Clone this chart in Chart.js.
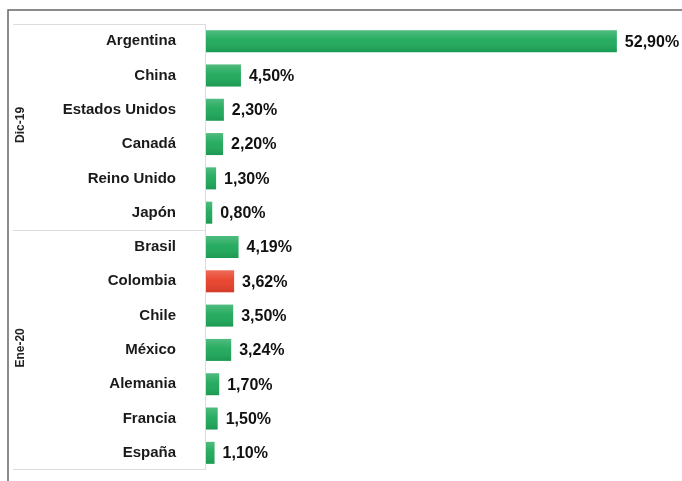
<!DOCTYPE html>
<html>
<head>
<meta charset="utf-8">
<script src="https://cdn.jsdelivr.net/npm/chart.js@4.4.1/dist/chart.umd.min.js"></script>
<style>
    html, body { margin: 0; padding: 0; background: #fff; }
    #wrap { width: 682px; height: 481px; position: relative; }
</style>
</head>
<body>
<div id="wrap"><canvas id="chart"></canvas></div>
<script>
// ================================
// Data
// ================================
const categories = ['Argentina', 'China', 'Estados Unidos', 'Canadá', 'Reino Unido', 'Japón',
    'Brasil', 'Colombia', 'Chile', 'México', 'Alemania', 'Francia', 'España'];
const values = [52.9, 4.5, 2.3, 2.2, 1.3, 0.8, 4.19, 3.62, 3.5, 3.24, 1.7, 1.5, 1.1];
const groupLabels = ['Dic-19', 'Ene-20'];
const groupSizes = [6, 7];
const highlight = 'Colombia';

const GREEN = '#1fa95b';
const RED = '#e8412a';
const FONT = '"Liberation Sans", Arial, sans-serif';

function fmt(v) {
    return v.toFixed(2).replace('.', ',') + '%';
}

// Frame, table lines, group labels, bar shading and value labels
const framePlugin = {
    id: 'frame',
    beforeDatasetsDraw(chart) {
        const ctx = chart.ctx;
        const area = chart.chartArea;
        const y = chart.scales.y;
        const tableLeft = 13;
        const tableRight = area.left - 1;

        ctx.save();
        // outer frame
        ctx.strokeStyle = '#666';
        ctx.lineWidth = 1.5;
        ctx.beginPath();
        ctx.moveTo(682, 10);
        ctx.lineTo(8, 10);
        ctx.lineTo(8, 481);
        ctx.stroke();

        // table lines
        ctx.strokeStyle = '#dcdcdc';
        ctx.lineWidth = 1;
        ctx.beginPath();
        ctx.moveTo(tableRight + 0.5, area.top);
        ctx.lineTo(tableRight + 0.5, area.bottom);
        ctx.moveTo(tableLeft, area.top + 0.5);
        ctx.lineTo(tableRight, area.top + 0.5);
        ctx.moveTo(tableLeft, area.bottom - 0.5);
        ctx.lineTo(tableRight, area.bottom - 0.5);

        let start = 0;
        const bounds = [];
        groupSizes.forEach((n, i) => {
            const top = i === 0 ? area.top : y.getPixelForValue(start - 0.5);
            const end = start + n - 1;
            const bottom = i === groupSizes.length - 1 ? area.bottom : y.getPixelForValue(end + 0.5);
            bounds.push([top, bottom]);
            if (i > 0) {
                ctx.moveTo(tableLeft, Math.round(top) + 0.5);
                ctx.lineTo(tableRight, Math.round(top) + 0.5);
            }
            start += n;
        });
        ctx.stroke();

        // group labels (vertical)
        ctx.fillStyle = '#222';
        ctx.font = 'bold 12px ' + FONT;
        ctx.textAlign = 'center';
        ctx.textBaseline = 'middle';
        bounds.forEach((b, i) => {
            ctx.save();
            ctx.translate(21, (b[0] + b[1]) / 2 - 2);
            ctx.rotate(-Math.PI / 2);
            ctx.fillText(groupLabels[i], 0, 0);
            ctx.restore();
        });
        ctx.restore();
    },
    afterDatasetsDraw(chart) {
        const ctx = chart.ctx;
        const meta = chart.getDatasetMeta(0);
        ctx.save();
        // soft bevel shading on each bar
        meta.data.forEach(bar => {
            const h = bar.height;
            const top = bar.y - h / 2;
            const g = ctx.createLinearGradient(0, top, 0, top + h);
            g.addColorStop(0, 'rgba(255,255,255,0.22)');
            g.addColorStop(0.45, 'rgba(255,255,255,0.04)');
            g.addColorStop(1, 'rgba(0,0,0,0.10)');
            ctx.fillStyle = g;
            ctx.fillRect(bar.base, top, bar.x - bar.base, h);
        });

        ctx.fillStyle = '#111';
        ctx.font = 'bold 16px ' + FONT;
        ctx.textAlign = 'left';
        ctx.textBaseline = 'middle';
        meta.data.forEach((bar, i) => {
            ctx.fillText(fmt(values[i]), bar.x + 8, bar.y + 1);
        });
        ctx.restore();
    }
};

const ctx = document.getElementById('chart').getContext('2d');
new Chart(ctx, {
    type: 'bar',
    data: {
        labels: categories,
        datasets: [{
            data: values,
            backgroundColor: categories.map(c => c === highlight ? RED : GREEN),
            borderWidth: 0,
            categoryPercentage: 1,
            barPercentage: 0.64
        }]
    },
    options: {
        indexAxis: 'y',
        responsive: true,
        maintainAspectRatio: false,
        animation: false,
        layout: { padding: { top: 24, bottom: 11, left: 0, right: 10 } },
        plugins: {
            legend: { display: false },
            tooltip: { enabled: false }
        },
        scales: {
            x: {
                display: false,
                min: 0,
                max: 60
            },
            y: {
                afterFit(scale) {
                    scale.width = 206;
                    scale.paddingTop = 0;
                    scale.paddingBottom = 0;
                },
                grid: { display: false, drawTicks: false },
                border: { display: false },
                ticks: {
                    padding: 30,
                    color: '#1a1a1a',
                    font: { family: FONT, size: 15, weight: 'bold' }
                }
            }
        }
    },
    plugins: [framePlugin]
});
</script>
</body>
</html>
